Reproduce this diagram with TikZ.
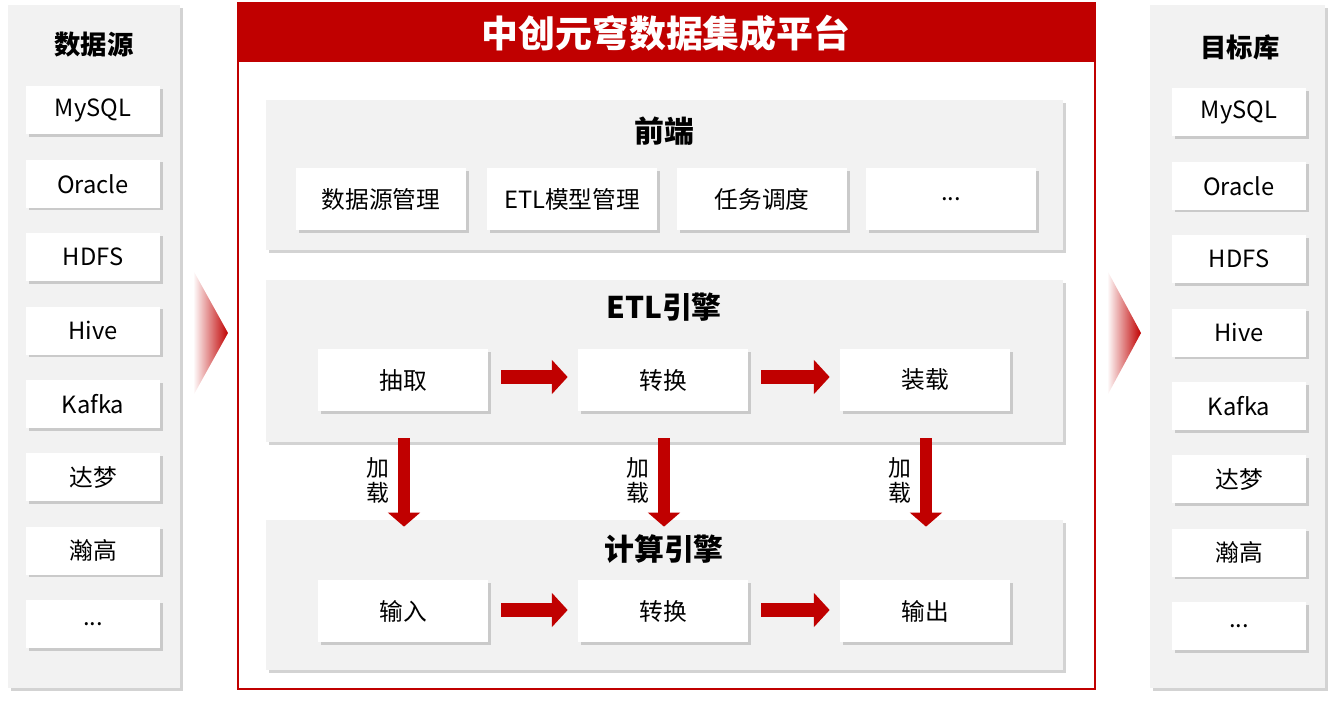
\documentclass[tikz,border=0pt]{standalone}
\usepackage{fontspec}
\setmainfont{Noto Sans CJK SC}
\usepackage{xcolor}
\definecolor{zcred}{HTML}{C00000}
\definecolor{zcgray}{HTML}{F2F2F2}
\usetikzlibrary{arrows.meta, positioning, shadows, calc}
\newcommand{\etcdots}{.\kern0pt.\kern0pt.}
\tikzset{
    panel/.style={
        fill=zcgray, draw=none,
        drop shadow={shadow xshift=1.5pt, shadow yshift=-1.5pt, opacity=0.35}
    },
    item/.style={
        fill=white, draw=none,
        minimum width=2.68cm, minimum height=0.96cm,
        font=\fontsize{13.5}{15}\selectfont,
        drop shadow={shadow xshift=1.5pt, shadow yshift=-1.5pt, opacity=0.35}
    },
    box/.style={
        item, minimum width=3.4cm, minimum height=1.24cm
    },
    ptitle/.style={font=\bfseries\fontsize{17}{19}\selectfont},
    ctitle/.style={font=\bfseries\fontsize{15}{17}\selectfont},
    flow/.style={
        zcred, line width=8pt,
        -{Triangle[length=9pt, width=19pt]}
    },
    load/.style={
        zcred, line width=7pt,
        -{Triangle[length=8pt, width=18pt]}
    },
}
\begin{document}
\begin{tikzpicture}[x=0.02cm, y=-0.02cm]
    \useasboundingbox (0,0) rectangle (1338,703);

    % side columns
    \fill[panel] (8,5) rectangle (180,688);
    \fill[panel] (1150,5) rectangle (1325,688);
    \node[ctitle] (srctitle) at (94,45) {数据源};
    \node[ctitle] (dsttitle) at (1240,47) {目标库};
    \foreach \name [count=\i] in {MySQL,Oracle,HDFS,Hive,Kafka,达梦,瀚高,\etcdots} {
        \node[item] (src\i) at (93,{37+73.4*\i}) {\name};
        \node[item] (dst\i) at (1239,{39+73.4*\i}) {\name};
    }

    % chevrons
    \shade[left color=white, right color=zcred] (193,270) -- (228,333) -- (193,396) -- cycle;
    \shade[left color=white, right color=zcred] (1107,270) -- (1141,333) -- (1107,396) -- cycle;

    % platform frame
    \draw[zcred, line width=1.2pt] (238,3) rectangle (1095,689);
    \fill[zcred] (238,3) rectangle (1095,62);
    \node[white, font=\bfseries\fontsize{21}{23}\selectfont] (title) at (666,33) {中创元穹数据集成平台};

    % front end
    \fill[panel] (266,100) rectangle (1063,250);
    \node[ptitle] (fetitle) at (664,131) {前端};
    \node[box] (fe1) at (381,199) {数据源管理};
    \node[box] (fe2) at (572,199) {ETL模型管理};
    \node[box] (fe3) at (762,199) {任务调度};
    \node[box] (fe4) at (951,199) {\etcdots};

    % ETL engine
    \fill[panel] (266,280) rectangle (1063,442);
    \node[ptitle] (etltitle) at (664,307) {ETL引擎};
    \node[box] (etl1) at (403,380) {抽取};
    \node[box] (etl2) at (663,380) {转换};
    \node[box] (etl3) at (925,380) {装载};
    \draw[flow] ($(etl1.east)+(13,-3)$) -- ($(etl2.west)+(-10,-3)$);
    \draw[flow] ($(etl2.east)+(13,-3)$) -- ($(etl3.west)+(-10,-3)$);

    % compute engine
    \fill[panel] (266,520) rectangle (1063,670);
    \node[ptitle] (cetitle) at (664,549) {计算引擎};
    \node[box] (ce1) at (403,611) {输入};
    \node[box] (ce2) at (663,611) {转换};
    \node[box] (ce3) at (925,611) {输出};
    \draw[flow] ($(ce1.east)+(13,-1)$) -- ($(ce2.west)+(-10,-1)$);
    \draw[flow] ($(ce2.east)+(13,-1)$) -- ($(ce3.west)+(-10,-1)$);

    % load arrows
    \foreach \i in {1,2,3} {
        \draw[load] ($(etl\i.south)+(1,27)$) -- ($(ce\i.north)+(1,-53)$);
        \node[font=\fontsize{13}{15}\selectfont, align=center, inner sep=0pt]
            (ld\i) at ($(etl\i.south)+(-25,69)$) {加\\[-1pt]载};
    }
\end{tikzpicture}
\end{document}
